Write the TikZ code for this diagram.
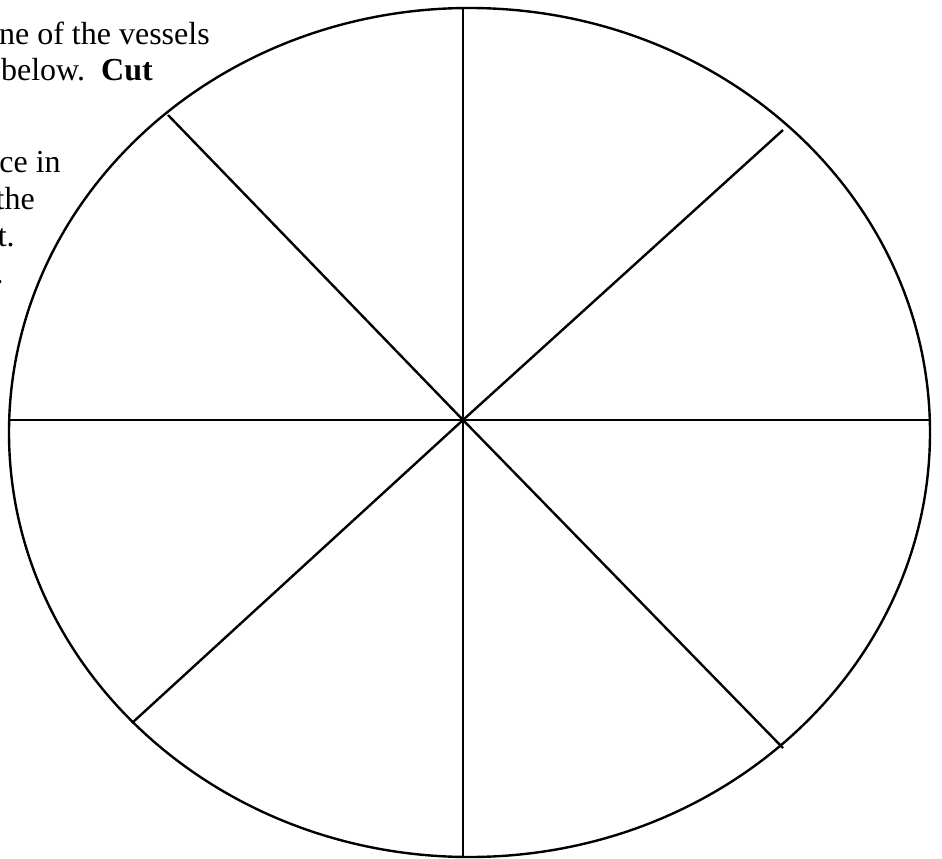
\documentclass[tikz,border=0pt]{standalone}
\usepackage{fontspec}
\setmainfont{Liberation Serif}
\begin{document}
\begin{tikzpicture}[x=0.75pt,y=-0.75pt,
  spoke/.style={line width=1.8pt,line cap=butt},
  rim/.style={line width=1.8pt},
  txt/.style={anchor=base east,inner sep=0pt,font=\fontsize{24}{27}\selectfont}]
\clip (0,0) rectangle (942,859);
\fill[white] (0,0) rectangle (942,859);
% partially visible text on the left
\node[txt] (t1) at (210,45) {ne of the vessels};
\node[txt] (t2) at (153,81) {below.\ \ \textbf{Cut}};
\node[txt] (t3) at (61,173) {ce in};
\node[txt] (t4) at (35,210) {the};
\node[txt] (t5) at (15,247) {t.};
\node[txt] (t6) at (4,283) {.};
% wheel
\coordinate (c) at (463,420);
\coordinate (n) at (463,8);
\coordinate (s) at (463,857);
\coordinate (w) at (9,420);
\coordinate (e) at (930,420);
\coordinate (ne) at (783,130);
\coordinate (nw) at (168,115);
\coordinate (sw) at (132,723);
\coordinate (se) at (783,748);
\draw[rim] (469.5,432.5) ellipse [x radius=460.5, y radius=424.5];
\draw[spoke] (n) -- (s);
\draw[spoke] (w) -- (e);
\draw[spoke] (nw) -- (c) -- (se);
\draw[spoke] (sw) -- (c) -- (ne);
\end{tikzpicture}
\end{document}
